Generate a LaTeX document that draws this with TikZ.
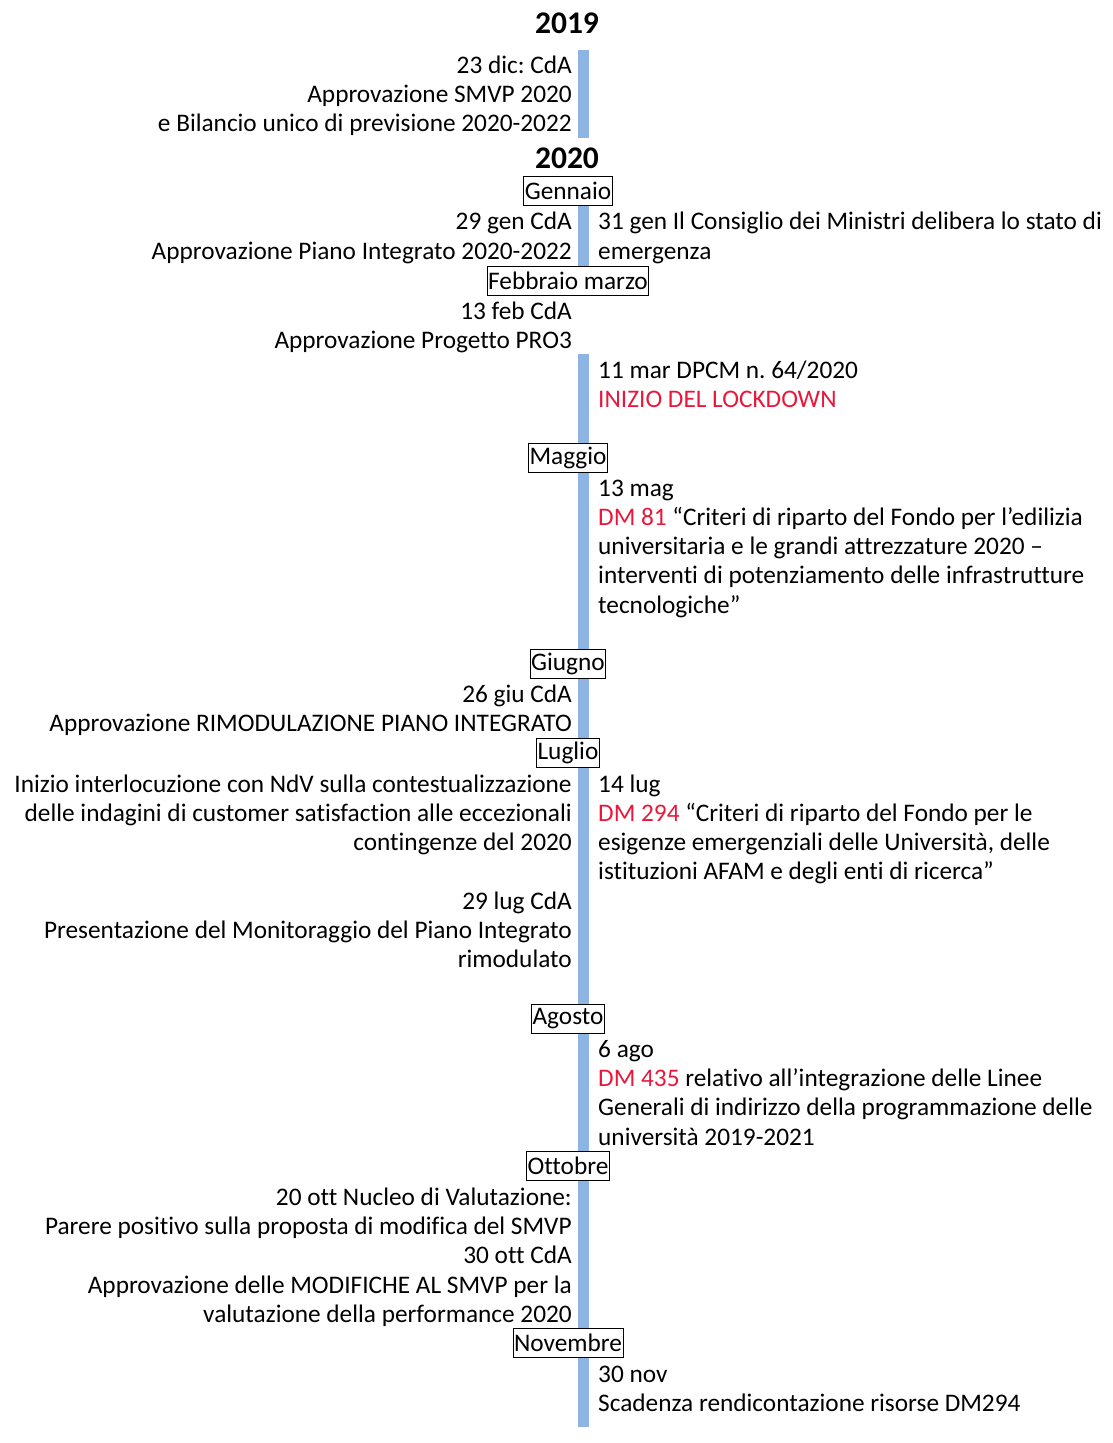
\documentclass[tikz,border=0pt]{standalone}
\usepackage{fontspec}
\setmainfont[Ligatures=NoCommon]{Carlito}
\frenchspacing
\definecolor{barblue}{RGB}{141,180,226}
\definecolor{hired}{RGB}{232,24,60}
\begin{document}
\begin{tikzpicture}[x=1pt,y=-1pt,
  txt/.style={inner sep=0pt,font=\fontsize{25.3}{29}\selectfont},
  lft/.style={txt,anchor=base east},
  rgt/.style={txt,anchor=base west},
  year/.style={inner sep=0pt,anchor=base,font=\fontsize{31.5}{34}\selectfont\bfseries},
  month/.style={draw=black,line width=0.8pt,fill=white,inner xsep=1pt,inner ysep=1pt,
    minimum height=29pt,font=\fontsize{25.3}{29}\selectfont},
  bar/.style={barblue,line width=11pt}]
\useasboundingbox (0,0) rectangle (1113,1443);

% timeline segments
\coordinate (b1s) at (583.5,50);  \coordinate (b1e) at (583.5,138);
\coordinate (b2s) at (583.5,205); \coordinate (b2e) at (583.5,267);
\coordinate (b3s) at (583.5,354); \coordinate (b3e) at (583.5,1427);
\draw[bar] (b1s) -- (b1e);
\draw[bar] (b2s) -- (b2e);
\draw[bar] (b3s) -- (b3e);

% years
\node[year] (y19) at (567,33) {2019};
\node[year] (y20) at (567,168) {2020};

% 2019
\node[lft] (l1a) at (572,73) {23 dic: CdA};
\node[lft] (l1b) at (572,102) {Approvazione SMVP 2020};
\node[lft] (l1c) at (572,131) {e Bilancio unico di previsione 2020-2022};

% January
\node[month] (gen) at (568,191) {Gennaio};
\node[lft] (l2a) at (572,229) {29 gen CdA};
\node[lft] (l2b) at (572,259) {Approvazione Piano Integrato 2020-2022};
\node[rgt] (r2a) at (598,229) {31 gen Il Consiglio dei Ministri delibera lo stato di};
\node[rgt] (r2b) at (598,259) {emergenza};

% February / March
\node[month] (feb) at (568,281) {Febbraio marzo};
\node[lft] (l3a) at (572,319) {13 feb CdA};
\node[lft] (l3b) at (572,348) {Approvazione Progetto PRO3};
\node[rgt] (r3a) at (598,378) {11 mar DPCM n. 64/2020};
\node[rgt,text=hired] (r3b) at (598,407) {INIZIO DEL LOCKDOWN};

% May
\node[month] (mag) at (568,458) {Maggio};
\node[rgt] (r4a) at (598,496) {13 mag};
\node[rgt] (r4b) at (598,525) {\textcolor{hired}{DM 81} “Criteri di riparto del Fondo per l’edilizia};
\node[rgt] (r4c) at (598,554) {universitaria e le grandi attrezzature 2020 –};
\node[rgt] (r4d) at (598,583) {interventi di potenziamento delle infrastrutture};
\node[rgt] (r4e) at (598,613) {tecnologiche”};

% June
\node[month] (giu) at (568,664) {Giugno};
\node[lft] (l5a) at (572,702) {26 giu CdA};
\node[lft] (l5b) at (572,731) {Approvazione RIMODULAZIONE PIANO INTEGRATO};

% July
\node[month] (lug) at (568,753) {Luglio};
\node[lft] (l6a) at (572,792) {Inizio interlocuzione con NdV sulla contestualizzazione};
\node[lft] (l6b) at (572,821) {delle indagini di customer satisfaction alle eccezionali};
\node[lft] (l6c) at (572,850) {contingenze del 2020};
\node[rgt] (r6a) at (598,792) {14 lug};
\node[rgt] (r6b) at (598,821) {\textcolor{hired}{DM 294} “Criteri di riparto del Fondo per le};
\node[rgt] (r6c) at (598,850) {esigenze emergenziali delle Università, delle};
\node[rgt] (r6d) at (598,879) {istituzioni AFAM e degli enti di ricerca”};
\node[lft] (l6d) at (572,909) {29 lug CdA};
\node[lft] (l6e) at (572,938) {Presentazione del Monitoraggio del Piano Integrato};
\node[lft] (l6f) at (572,967) {rimodulato};

% August
\node[month] (ago) at (568,1019) {Agosto};
\node[rgt] (r7a) at (598,1057) {6 ago};
\node[rgt] (r7b) at (598,1086) {\textcolor{hired}{DM 435} relativo all’integrazione delle Linee};
\node[rgt] (r7c) at (598,1115) {Generali di indirizzo della programmazione delle};
\node[rgt] (r7d) at (598,1145) {università 2019-2021};

% October
\node[month] (ott) at (568,1166) {Ottobre};
\node[lft] (l8a) at (572,1205) {20 ott Nucleo di Valutazione:};
\node[lft] (l8b) at (572,1234) {Parere positivo sulla proposta di modifica del SMVP};
\node[lft] (l8c) at (572,1263) {30 ott CdA};
\node[lft] (l8d) at (572,1293) {Approvazione delle MODIFICHE AL SMVP per la};
\node[lft] (l8e) at (572,1322) {valutazione della performance 2020};

% November
\node[month] (nov) at (568,1343) {Novembre};
\node[rgt] (r9a) at (598,1382) {30 nov};
\node[rgt] (r9b) at (598,1411) {Scadenza rendicontazione risorse DM294};
\end{tikzpicture}
\end{document}
